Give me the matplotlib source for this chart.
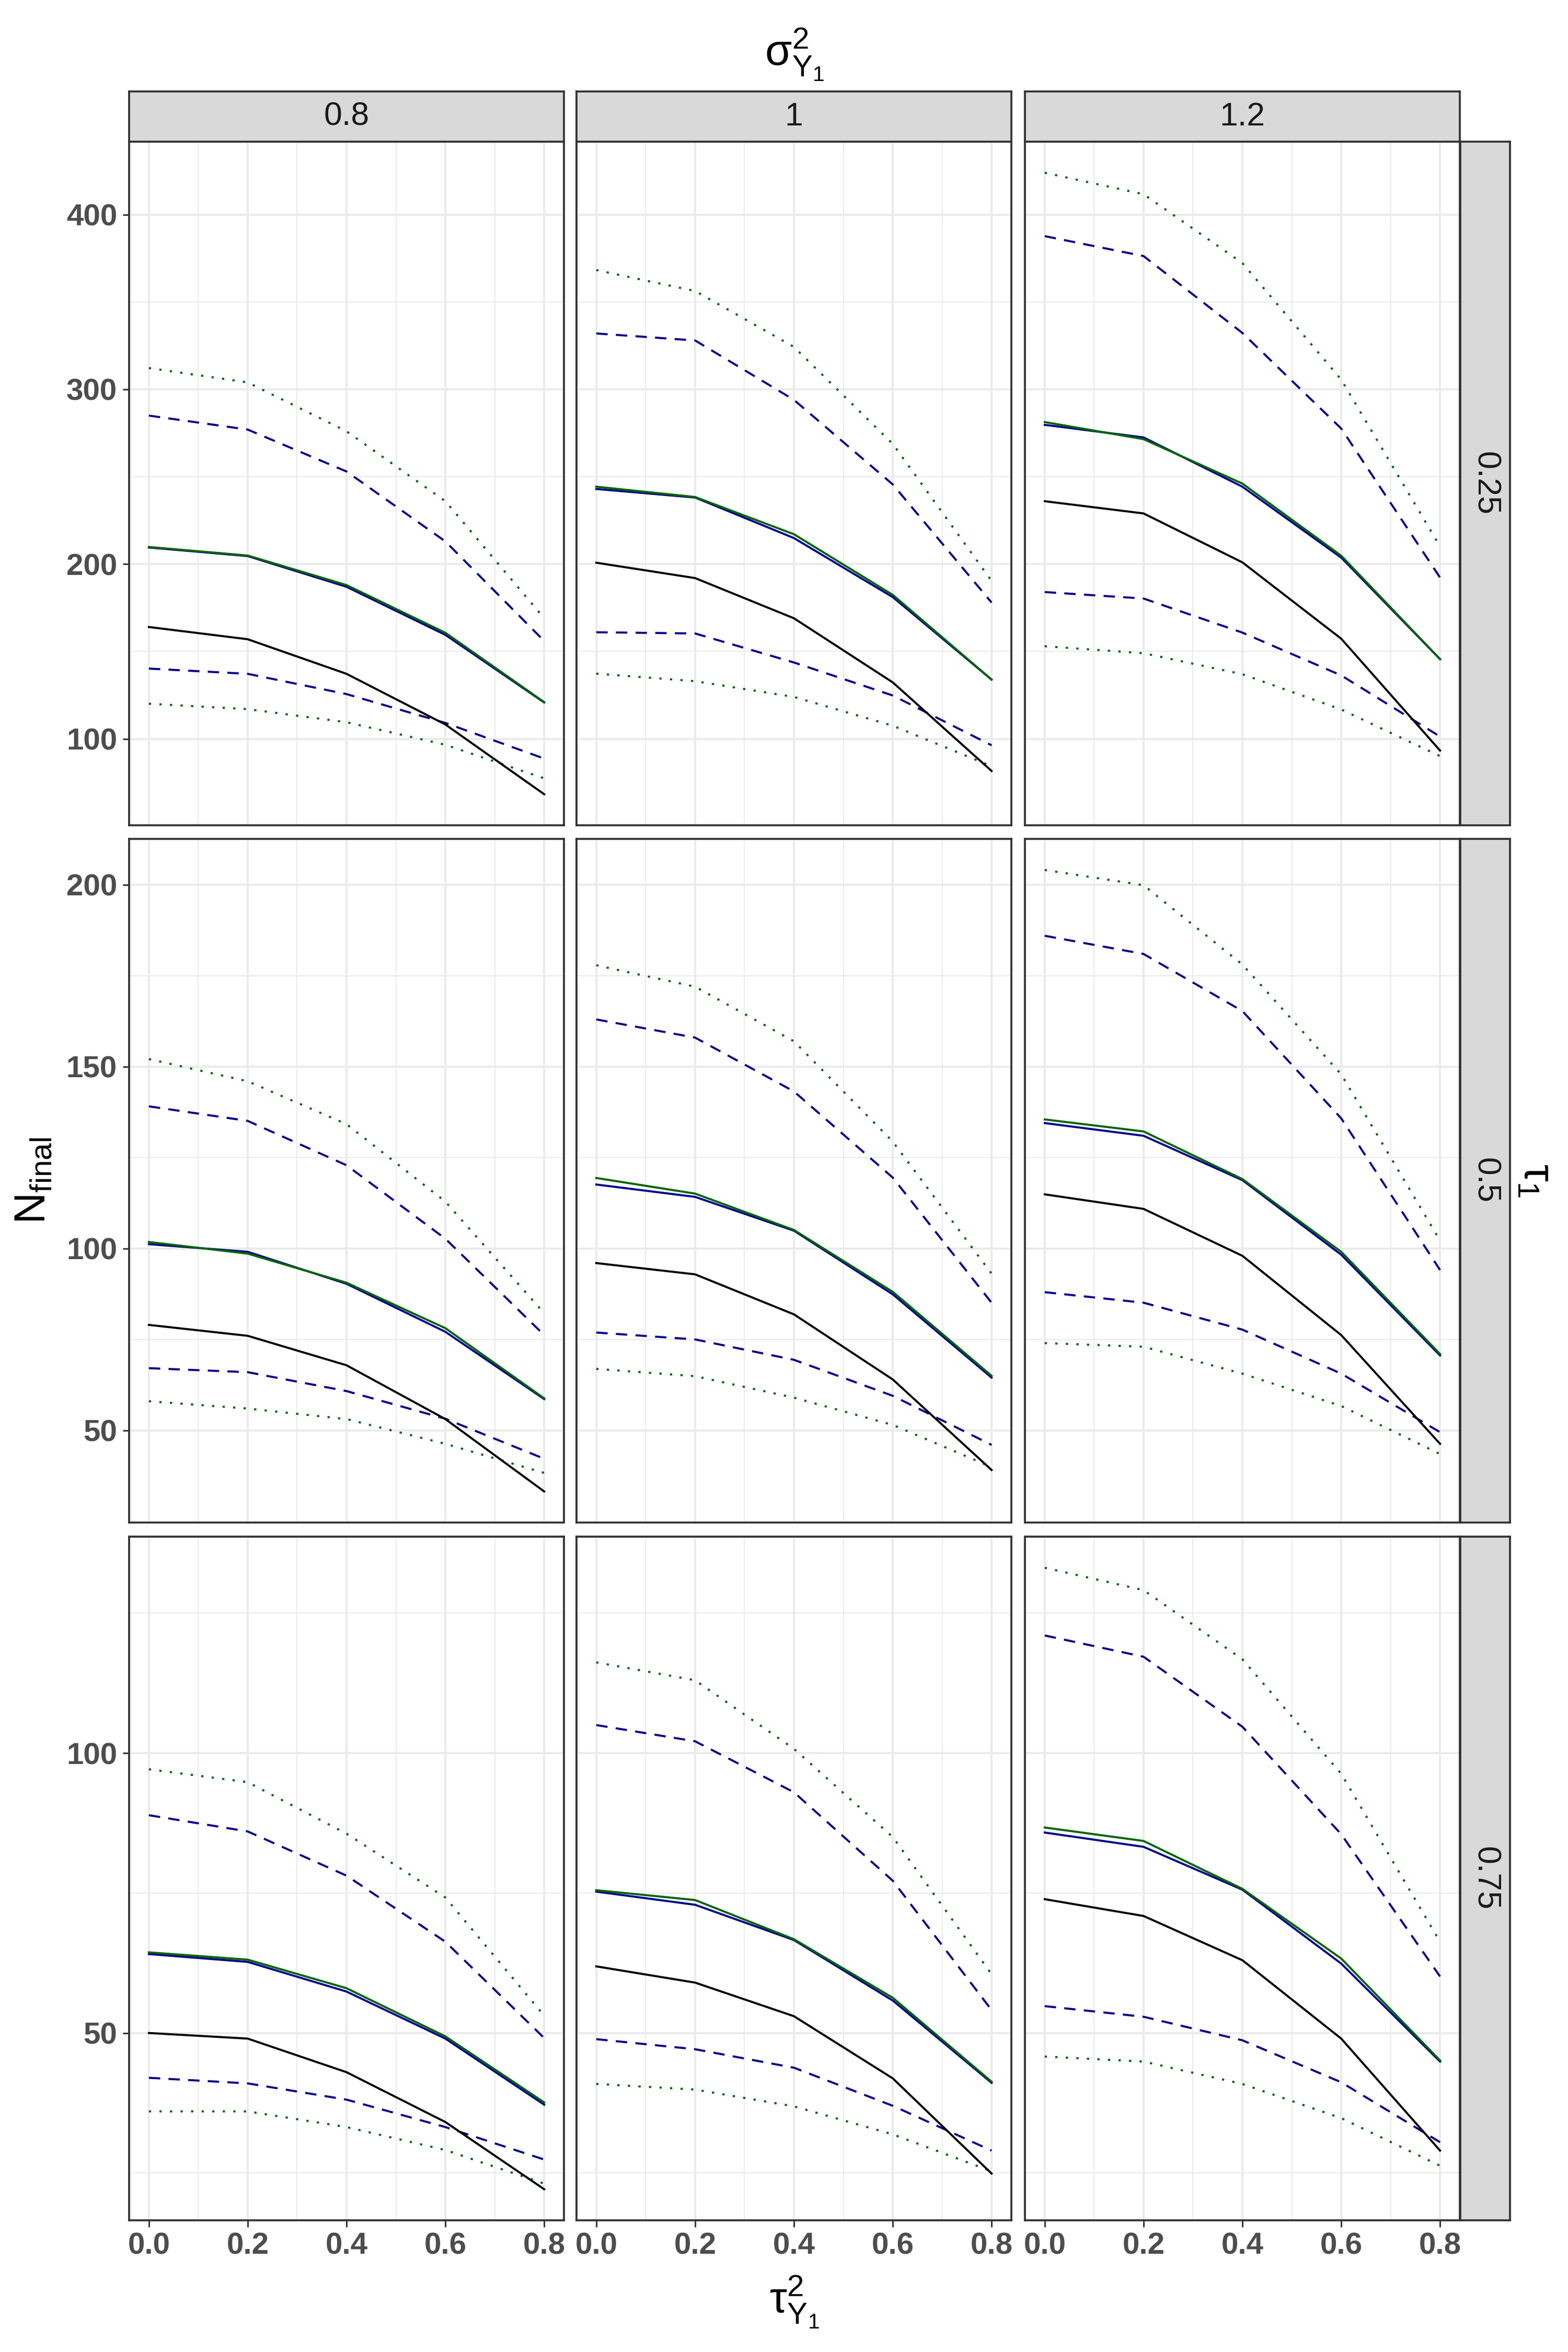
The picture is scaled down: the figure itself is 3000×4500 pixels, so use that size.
import matplotlib
matplotlib.use("Agg")
import matplotlib.pyplot as plt

# facet levels and x values
sigma_levels = ["0.8", "1", "1.2"]       # columns: sigma^2_Y1
tau1_levels = ["0.25", "0.5", "0.75"]    # rows: tau_1
tau_y = [0.0, 0.2, 0.4, 0.6, 0.8]        # x axis: tau^2_Y1

# every series: 9 panels, row by row (tau_1), then column (sigma^2_Y1)
black_solid = [
    [164, 157, 137.2, 108.2, 68.3], [200.8, 192, 169, 132.3, 81.6], [236, 229, 201, 157.3, 93.3],
    [79, 76, 67.9, 53.1, 33.2], [96, 92.9, 81.9, 64, 39.1], [114.9, 110.9, 98, 76.2, 46.3],
    [50, 49, 43, 34.1, 22.1], [61.9, 59, 53, 41.9, 24.9], [73.9, 70.9, 63, 49, 29],
]
blue_solid = [
    [209.5, 204.6, 187, 159.5, 120.8], [243, 238.1, 214.9, 181.1, 133.9], [279.7, 272.5, 244.3, 203.7, 145.6],
    [101.2, 99.1, 90.3, 77.1, 58.6], [117.6, 114.2, 104.9, 87.4, 64.5], [134.5, 131, 118.8, 98.3, 70.6],
    [64.1, 62.7, 57.4, 49, 37.2], [75.25, 72.9, 66.6, 55.8, 41.1], [85.8, 83.25, 75.6, 62.4, 44.9],
]
green_solid = [
    [209.8, 204.9, 188, 160.7, 121], [244.3, 238.4, 217.1, 182.4, 133.9], [281.3, 271.5, 246.1, 204.8, 145.6],
    [101.8, 98.6, 90.6, 78.1, 58.8], [119.4, 115.1, 105.1, 88.1, 65], [135.5, 132.2, 119.1, 99.1, 71],
    [64.4, 63.1, 58, 49.4, 37.6], [75.5, 73.75, 66.75, 56.3, 41.3], [86.7, 84.3, 75.75, 63.3, 45.1],
]
blue_upper = [
    [285, 277, 253, 213, 156], [332, 328, 294, 245.6, 178], [387.7, 376.3, 332.3, 277.6, 192.3],
    [139.1, 135.1, 122.9, 102.7, 76.2], [163, 158, 143.2, 119.5, 85.1], [186, 181, 165.3, 135.8, 94.1],
    [88.9, 86, 78.1, 66.3, 49.1], [105, 102.1, 93, 77.2, 54.1], [121, 117.2, 104.7, 85.5, 60.1],
]
blue_lower = [
    [140.2, 137.2, 125.6, 109.1, 88.7], [161, 160.3, 143.7, 124.8, 96.3], [184, 180.3, 160.8, 136.3, 101.3],
    [67.1, 66, 60.8, 53.2, 42.2], [76.9, 75, 69.4, 59.5, 46], [88, 85.1, 77.7, 65.6, 49.5],
    [42, 41, 38.1, 33.2, 27.4], [48.9, 47.1, 43.8, 37, 29], [54.8, 52.9, 48.7, 41.2, 30.5],
]
green_upper = [
    [312.2, 304, 276, 236, 169], [368.3, 356.3, 324.3, 268.8, 190.4], [424, 411.7, 372.3, 305.6, 210.1],
    [152.1, 146, 134.2, 112.9, 82.2], [177.9, 172, 157, 129.4, 93.1], [204.1, 199.9, 178.1, 147.9, 102.2],
    [97.1, 94.8, 85.6, 74.2, 53.1], [116.2, 113, 100.75, 85, 60.5], [133.1, 129.1, 116.75, 96.3, 66.3],
]
green_lower = [
    [120.1, 117, 109.5, 96.6, 77.4], [137.3, 133, 124, 107.5, 84.3], [153, 149, 137, 116.8, 90.1],
    [58, 56, 53.1, 46.3, 38.3], [66.9, 64.9, 59, 51.5, 39.9], [74, 73, 65.6, 56.7, 43.5],
    [36, 36, 33.2, 29.1, 23.1], [40.9, 39.9, 36.9, 31.9, 25.3], [45.8, 44.9, 40.9, 34.8, 26.3],
]

# y ticks for each row (free y scale per row)
row_major = [[100, 200, 300, 400], [50, 100, 150, 200], [50, 100]]
row_minor = [[150, 250, 350], [75, 125, 175], [25, 75, 125]]

plt.rcParams["font.family"] = ["Liberation Sans", "DejaVu Sans"]
plt.rcParams["mathtext.fontset"] = "custom"
plt.rcParams["mathtext.rm"] = "Liberation Sans"
plt.rcParams["mathtext.it"] = "Liberation Sans:italic"

W, H = 3000, 4500
fig = plt.figure(figsize=(10, 15), dpi=300)


def box(x, y, w, h):
    return [x / W, 1 - (y + h) / H, w / W, h / H]


col_x = [247, 1103, 1961]
panel_w = 832
row_y = [271, 1605, 2940]
panel_h = 1308
border = "#333333"

series = [
    (green_upper, "#006400", (1.1, 4.0)),
    (green_lower, "#006400", (1.1, 4.0)),
    (blue_upper, "#00008B", (5.5, 4.0)),
    (blue_lower, "#00008B", (5.5, 4.0)),
    (black_solid, "black", None),
    (blue_solid, "#00008B", None),
    (green_solid, "#006400", None),
]

for r in range(3):
    first = None
    for c in range(3):
        ax = fig.add_axes(box(col_x[c], row_y[r], panel_w, panel_h), sharey=first)
        if first is None:
            first = ax
        k = r * 3 + c
        for data, color, dashes in series:
            line, = ax.plot(tau_y, data[k], color=color, lw=0.95)
            if dashes is not None:
                line.set_dashes(dashes)
        ax.margins(x=0.05, y=0.05)
        ax.set_xticks(tau_y)
        ax.set_xticks([0.1, 0.3, 0.5, 0.7], minor=True)
        ax.set_yticks(row_major[r])
        ax.set_yticks(row_minor[r], minor=True)
        ax.grid(which="major", color="#EBEBEB", lw=1.0)
        ax.grid(which="minor", color="#EBEBEB", lw=0.5)
        ax.set_axisbelow(True)
        for sp in ax.spines.values():
            sp.set_color(border)
            sp.set_linewidth(0.9)
        ax.tick_params(which="major", length=3, width=0.7, color=border, pad=2.5,
                       labelsize=14, labelcolor="#4D4D4D")
        ax.tick_params(which="minor", length=0)
        ax.set_xticklabels([f"{v:.1f}" for v in tau_y], fontweight="bold")
        ax.set_yticklabels([str(v) for v in row_major[r]], fontweight="bold")
        if c > 0:
            ax.tick_params(axis="y", left=False, labelleft=False)
        if r < 2:
            ax.tick_params(axis="x", bottom=False, labelbottom=False)

# top strips
for c in range(3):
    sx = fig.add_axes(box(col_x[c], 175, panel_w, 96))
    sx.set_facecolor("#D9D9D9")
    sx.set_xticks([])
    sx.set_yticks([])
    for sp in sx.spines.values():
        sp.set_color(border)
        sp.set_linewidth(0.9)
    sx.text(0.5, 0.5, sigma_levels[c], transform=sx.transAxes, ha="center",
            va="center", fontsize=15, color="#1A1A1A")

# right strips
for r in range(3):
    sy = fig.add_axes(box(2794, row_y[r], 95, panel_h))
    sy.set_facecolor("#D9D9D9")
    sy.set_xticks([])
    sy.set_yticks([])
    for sp in sy.spines.values():
        sp.set_color(border)
        sp.set_linewidth(0.9)
    sy.text(0.5, 0.5, tau1_levels[r], transform=sy.transAxes, ha="center",
            va="center", fontsize=15, color="#1A1A1A", rotation=-90)

fig.text(1520 / W, 1 - 105 / H, r"$\mathrm{\sigma}^{2}_{\mathrm{Y}_{1}}$",
         ha="center", va="center", fontsize=20)
fig.text(1520 / W, 1 - 4405 / H, r"$\mathrm{\tau}^{2}_{\mathrm{Y}_{1}}$",
         ha="center", va="center", fontsize=20)
fig.text(64 / W, 1 - (row_y[1] + panel_h / 2) / H, r"$\mathrm{N}_{\mathrm{final}}$",
         ha="center", va="center", fontsize=20, rotation=90)
fig.text(2938 / W, 1 - (row_y[1] + panel_h / 2) / H, r"$\mathrm{\tau}_{1}$",
         ha="center", va="center", fontsize=20, rotation=-90)

fig.savefig("out.png", dpi=300, facecolor="white")
